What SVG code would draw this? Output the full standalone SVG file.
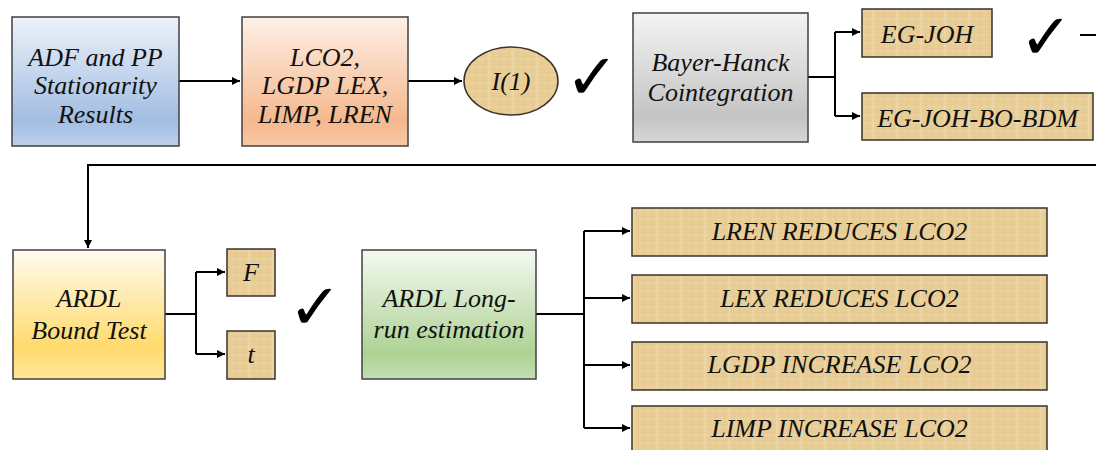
<svg xmlns="http://www.w3.org/2000/svg" width="1096" height="450" viewBox="0 0 1096 450">
<defs>
<style>
.t{font-family:'Liberation Serif','Times New Roman',serif;font-style:italic;font-size:26px;fill:#111;text-anchor:middle}
.box{stroke:#404040;stroke-width:1.5}
.pap{fill:url(#papyrus);stroke:#3a3326;stroke-width:1.5}
.ln{fill:none;stroke:#000;stroke-width:2}
.chk{font-family:'DejaVu Sans',sans-serif;font-size:64px;fill:#000;text-anchor:middle}
</style>
<linearGradient id="gBlue" x1="0" y1="0" x2="0" y2="1"><stop offset="0" stop-color="#edf2fa"/><stop offset="0.8" stop-color="#a2bde2"/><stop offset="1" stop-color="#bdd0ea"/></linearGradient>
<linearGradient id="gPeach" x1="0" y1="0" x2="0" y2="1"><stop offset="0" stop-color="#fdf0e7"/><stop offset="0.8" stop-color="#f5b88e"/><stop offset="1" stop-color="#f7c7a5"/></linearGradient>
<linearGradient id="gGray" x1="0" y1="0" x2="0" y2="1"><stop offset="0" stop-color="#f4f4f4"/><stop offset="0.8" stop-color="#c4c4c4"/><stop offset="1" stop-color="#d6d6d6"/></linearGradient>
<linearGradient id="gYellow" x1="0" y1="0" x2="0" y2="1"><stop offset="0" stop-color="#fffbef"/><stop offset="0.75" stop-color="#ffda6c"/><stop offset="1" stop-color="#ffe698"/></linearGradient>
<linearGradient id="gGreen" x1="0" y1="0" x2="0" y2="1"><stop offset="0" stop-color="#f4f9f1"/><stop offset="0.8" stop-color="#aed294"/><stop offset="1" stop-color="#c4dfb2"/></linearGradient>
<pattern id="papyrus" patternUnits="userSpaceOnUse" width="24" height="24">
<rect width="24" height="24" fill="#e8cd96"/>
<path d="M0 3H24M0 11H24M0 19H24" stroke="#f0dcaf" stroke-width="1.2" opacity="0.6"/>
<path d="M5 0V24M14 0V24M20 0V24" stroke="#dcbf84" stroke-width="1" opacity="0.4"/>
<path d="M9 0V24" stroke="#f2e0b8" stroke-width="1.5" opacity="0.5"/>
</pattern>
<marker id="ah" viewBox="0 0 10 10" refX="10" refY="5" markerWidth="4" markerHeight="4" orient="auto" markerUnits="strokeWidth"><path d="M0 0L10 5L0 10Z" fill="#000"/></marker>
</defs>
<rect width="1096" height="450" fill="#fff"/>

<g id="connectors">
<path class="ln" d="M179 81H240" marker-end="url(#ah)"/>
<path class="ln" d="M408 81H462" marker-end="url(#ah)"/>
<path class="ln" d="M808 77H835"/>
<path class="ln" d="M835 32V116"/>
<path class="ln" d="M835 32H860" marker-end="url(#ah)"/>
<path class="ln" d="M835 116H860" marker-end="url(#ah)"/>
<path class="ln" d="M1080 35H1096"/>
<path class="ln" d="M1096 165H88V248" marker-end="url(#ah)"/>
<path class="ln" d="M165 314H196"/>
<path class="ln" d="M196 272V354"/>
<path class="ln" d="M196 272H225" marker-end="url(#ah)"/>
<path class="ln" d="M196 354H225" marker-end="url(#ah)"/>
<path class="ln" d="M536 314H584"/>
<path class="ln" d="M584 231V428"/>
<path class="ln" d="M584 231H630" marker-end="url(#ah)"/>
<path class="ln" d="M584 298H630" marker-end="url(#ah)"/>
<path class="ln" d="M584 365H630" marker-end="url(#ah)"/>
<path class="ln" d="M584 428H630" marker-end="url(#ah)"/>
</g>

<g id="adf">
<rect class="box" x="12" y="17" width="167" height="129" fill="url(#gBlue)"/>
<text class="t" x="95.5" y="66">ADF and PP</text>
<text class="t" x="95.5" y="94">Stationarity</text>
<text class="t" x="95.5" y="123">Results</text>
</g>

<g id="variables">
<rect class="box" x="242" y="17" width="166" height="129" fill="url(#gPeach)"/>
<text class="t" x="325" y="66">LCO2,</text>
<text class="t" x="325" y="94">LGDP LEX,</text>
<text class="t" x="325" y="123">LIMP, LREN</text>
</g>

<g id="i1">
<ellipse cx="511" cy="81" rx="47" ry="34" fill="url(#papyrus)" stroke="#3a3326" stroke-width="1.5"/>
<text class="t" x="511" y="90">I(1)</text>
</g>

<g id="check1"><text class="chk" x="592" y="99">✓</text></g>

<g id="bayer">
<rect class="box" x="633" y="13" width="175" height="129" fill="url(#gGray)"/>
<text class="t" x="720.5" y="71">Bayer-Hanck</text>
<text class="t" x="720.5" y="101">Cointegration</text>
</g>

<g id="egjoh">
<rect class="pap" x="862" y="9" width="130" height="48"/>
<text class="t" x="927" y="43">EG-JOH</text>
</g>

<g id="check2"><text class="chk" x="1046" y="59">✓</text></g>

<g id="egjohbobdm">
<rect class="pap" x="862" y="93" width="231" height="47"/>
<text class="t" x="977.5" y="127">EG-JOH-BO-BDM</text>
</g>

<g id="ardl">
<rect class="box" x="13" y="250" width="152" height="129" fill="url(#gYellow)"/>
<text class="t" x="89" y="307">ARDL</text>
<text class="t" x="89" y="339">Bound Test</text>
</g>

<g id="f">
<rect class="pap" x="227" y="249" width="48" height="47"/>
<text class="t" x="251" y="281">F</text>
</g>

<g id="t">
<rect class="pap" x="227" y="331" width="48" height="48"/>
<text class="t" x="251" y="363">t</text>
</g>

<g id="check3"><text class="chk" x="315" y="329">✓</text></g>

<g id="longrun">
<rect class="box" x="362" y="250" width="174" height="129" fill="url(#gGreen)"/>
<text class="t" x="449" y="307">ARDL Long-</text>
<text class="t" x="449" y="338">run estimation</text>
</g>

<g id="r1">
<rect class="pap" x="632" y="208" width="415" height="48"/>
<text class="t" x="839.5" y="240">LREN REDUCES LCO2</text>
</g>
<g id="r2">
<rect class="pap" x="632" y="275" width="415" height="48"/>
<text class="t" x="839.5" y="307">LEX REDUCES LCO2</text>
</g>
<g id="r3">
<rect class="pap" x="632" y="342" width="415" height="48"/>
<text class="t" x="839.5" y="373">LGDP INCREASE LCO2</text>
</g>
<g id="r4">
<rect class="pap" x="632" y="406" width="415" height="60"/>
<text class="t" x="839.5" y="437">LIMP INCREASE LCO2</text>
</g>
</svg>
